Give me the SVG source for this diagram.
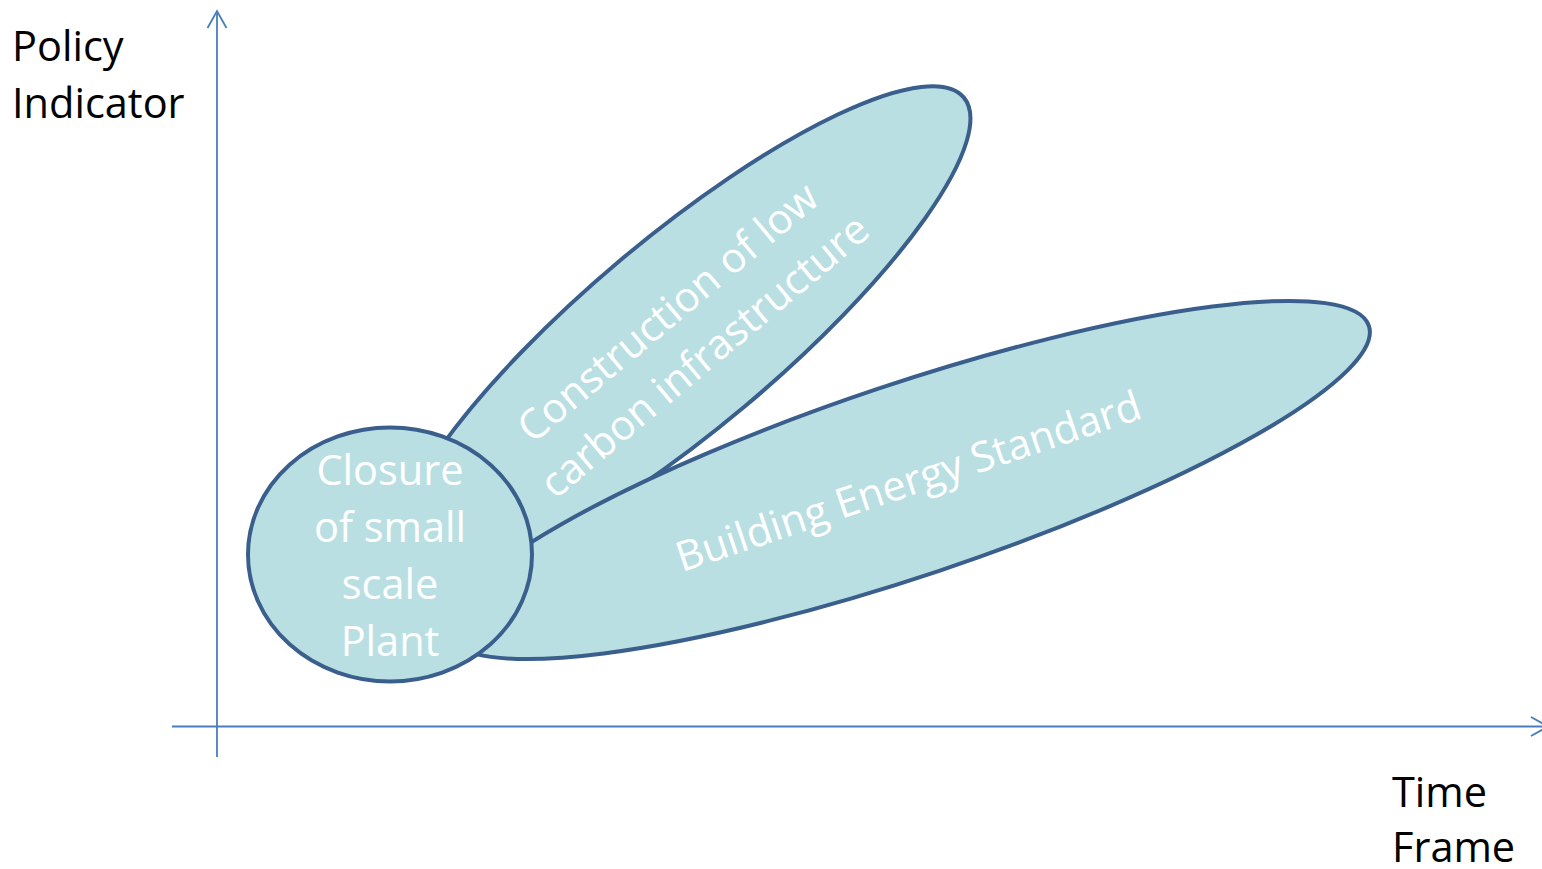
<svg xmlns="http://www.w3.org/2000/svg" width="1542" height="869" viewBox="0 0 1542 869">
  <style>
    .axis { fill: none; stroke: #4A7EBB; stroke-width: 1.8; }
    .blob { fill: #B9DFE3; stroke: #3A5F8C; stroke-width: 4; }
    .lbl { font-family: "Open Sans", "Liberation Sans", sans-serif; font-size: 41.5px; }
    .axis-lbl { fill: #000000; }
    .in { fill: #FFFFFF; text-anchor: middle; }
  </style>
  <defs>
    <marker id="open-arrow" markerUnits="userSpaceOnUse" viewBox="-2 -2 22 24" refX="17" refY="10" markerWidth="22" markerHeight="24" orient="auto" overflow="visible">
      <path d="M0,0.5 L17,10 L0,19.5" fill="none" stroke="#4A7EBB" stroke-width="1.8"/>
    </marker>
  </defs>
  <rect width="1542" height="869" fill="#FFFFFF"/>

  <!-- axes -->
  <g id="connectors">
    <line class="axis" x1="217" y1="757" x2="217" y2="11" marker-end="url(#open-arrow)"/>
    <line class="axis" x1="172" y1="726.5" x2="1548" y2="726.5" marker-end="url(#open-arrow)"/>
  </g>

  <g id="axis-y-label">
    <text class="lbl axis-lbl" x="12" y="61">Policy</text>
    <text class="lbl axis-lbl" x="12" y="118">Indicator</text>
  </g>
  <g id="axis-x-label">
    <text class="lbl axis-lbl" x="1392" y="807">Time</text>
    <text class="lbl axis-lbl" x="1392" y="862">Frame</text>
  </g>

  <!-- policy lobes -->
  <g id="construction">
    <ellipse class="blob" cx="682.6" cy="333.3" rx="367" ry="96" transform="rotate(-40 682.6 333.3)"/>
    <g transform="translate(686 334) rotate(-40)">
      <text class="lbl in" x="0" y="-14">Construction of low</text>
      <text class="lbl in" x="0" y="43">carbon infrastructure</text>
    </g>
  </g>

  <g id="building">
    <ellipse class="blob" cx="908" cy="480" rx="486" ry="96" transform="rotate(-18.5 908 480)"/>
    <text class="lbl in" transform="translate(913 495) rotate(-18.5)" x="0" y="0">Building Energy Standard</text>
  </g>

  <g id="closure">
    <ellipse class="blob" cx="390" cy="554.5" rx="142" ry="127"/>
    <text class="lbl in" x="390" y="485">Closure</text>
    <text class="lbl in" x="390" y="542">of small</text>
    <text class="lbl in" x="390" y="599">scale</text>
    <text class="lbl in" x="390" y="656">Plant</text>
  </g>
</svg>
